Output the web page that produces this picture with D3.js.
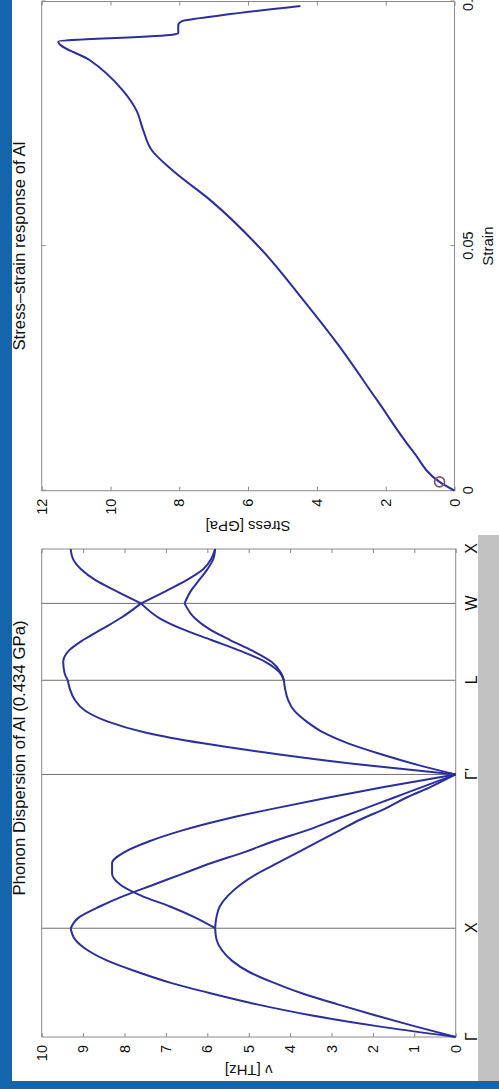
<!DOCTYPE html>
<html>
<head>
<meta charset="utf-8">
<script src="https://cdn.jsdelivr.net/npm/d3@7"></script>
<style>
  html, body { margin: 0; padding: 0; background: #fff; overflow: hidden; }
  text { font-family: "Liberation Sans", Arial, Helvetica, sans-serif; fill: #111; }
</style>
</head>
<body>
<svg id="fig" width="499" height="1089"></svg>
<script>
// ---------- Phonon dispersion (path Γ–X–Γ'–L–W–X, frequencies in THz) ----------
const symLabels = ["Γ", "X", "Γ'", "L", "W", "X"];
const symPos = [0, 1, 2.414, 3.280, 3.987, 4.487];
const freqTicks = [0, 1, 2, 3, 4, 5, 6, 7, 8, 9, 10];

// Γ → X
const qGX = [0, 0.1, 0.2, 0.3, 0.4, 0.5, 0.6, 0.7, 0.8, 0.9, 1.0];
const fGX_L = [0, 1.9, 3.5, 4.8, 5.9, 6.9, 7.7, 8.4, 8.9, 9.2, 9.3];
const fGX_T = [0, 1.0, 1.95, 2.85, 3.7, 4.4, 5.0, 5.4, 5.65, 5.78, 5.81];

// X → Γ'
const qXG = [1.0, 1.1, 1.2, 1.3, 1.4, 1.5, 1.6, 1.7, 1.8, 1.9, 2.0, 2.1, 2.2, 2.3, 2.414];
const fXG_1 = [9.3, 9.1, 8.6, 8.0, 7.3, 6.6, 5.9, 5.1, 4.4, 3.6, 2.9, 2.2, 1.5, 0.8, 0];
const fXG_2 = [5.81, 6.3, 6.9, 7.6, 8.1, 8.3, 8.3, 8.0, 7.4, 6.6, 5.6, 4.4, 3.1, 1.7, 0];
const fXG_3 = [5.81, 5.78, 5.7, 5.5, 5.2, 4.8, 4.3, 3.8, 3.3, 2.8, 2.3, 1.7, 1.2, 0.6, 0];

// Γ' → L
const qGL = [2.414, 2.5, 2.6, 2.7, 2.8, 2.9, 3.0, 3.1, 3.2, 3.280];
const fGL_L = [0, 2.2, 4.3, 6.1, 7.5, 8.4, 8.95, 9.2, 9.32, 9.37];
const fGL_T = [0, 0.9, 1.8, 2.6, 3.2, 3.6, 3.9, 4.05, 4.12, 4.15];

// L → W
const qLW = [3.280, 3.35, 3.45, 3.55, 3.65, 3.75, 3.85, 3.987];
const fLW_1 = [9.37, 9.45, 9.48, 9.35, 9.0, 8.55, 8.1, 7.6];
const fLW_2 = [4.15, 4.25, 4.6, 5.2, 5.9, 6.6, 7.15, 7.6];
const fLW_3 = [4.15, 4.22, 4.45, 4.9, 5.45, 5.95, 6.3, 6.55];

// W → X
const qWX = [3.987, 4.1, 4.2, 4.3, 4.4, 4.487];
const fWX_1 = [7.6, 8.2, 8.7, 9.05, 9.25, 9.3];
const fWX_2 = [7.6, 7.0, 6.5, 6.1, 5.9, 5.81];
const fWX_3 = [6.55, 6.4, 6.2, 6.0, 5.85, 5.81];

// ---------- Stress–strain response ----------
const strainTicks = [0, 0.05, 0.1];
const stressTicks = [0, 2, 4, 6, 8, 10, 12];
const strain = [0, 0.0018, 0.008, 0.0185, 0.03, 0.039, 0.0492, 0.0594, 0.0655, 0.0696, 0.0737, 0.0778, 0.0819, 0.088, 0.0918,
                0.0932, 0.0935, 0.0952, 0.096, 0.0966, 0.0991];
const stress = [0, 0.434, 1.2, 2.25, 3.4, 4.4, 5.6, 7.1, 8.2, 8.8, 9.05, 9.25, 9.65, 10.6, 11.52,
                8.2, 8.03, 8.03, 7.92, 7.39, 4.48];
const markerStrain = [0.0018];
const markerStress = [0.434];

// ---------- Figure ----------
const W = 1089, H = 499;   // figure drawn upright, then turned a quarter turn
const lineColor = "#2b2f9e";
const axisColor = "#8a8a8a";

const svg = d3.select("#fig");
svg.append("rect").attr("width", 499).attr("height", 1089).attr("fill", "#fff");
// slide frame
svg.append("rect").attr("x", 478).attr("y", 535).attr("width", 21).attr("height", 546).attr("fill", "#c2c2c2");
svg.append("rect").attr("x", 0).attr("y", 0).attr("width", 12).attr("height", 1089).attr("fill", "#1565ad");
svg.append("rect").attr("x", 0).attr("y", 1081).attr("width", 499).attr("height", 8).attr("fill", "#1565ad");

const fig = svg.append("g").attr("transform", `translate(0,${W}) rotate(-90)`);

function styleAxis(g) {
  g.select(".domain").remove();
  g.selectAll(".tick line").attr("stroke", axisColor);
  g.selectAll(".tick text").attr("font-size", 14.5).attr("fill", "#111");
}

function box(g, x0, x1, y0, y1) {
  g.append("rect").attr("x", x0).attr("y", y1).attr("width", x1 - x0).attr("height", y0 - y1)
    .attr("fill", "none").attr("stroke", axisColor).attr("stroke-width", 1);
}

// ---- phonon panel ----
const px = d3.scaleLinear().domain([0, 4.487]).range([52, 540]);
const py = d3.scaleLinear().domain([0, 10]).range([455.7, 41.7]);
const pg = fig.append("g");

// symmetry lines
pg.selectAll("line.sym").data(symPos.slice(1, -1)).join("line")
  .attr("x1", d => px(d)).attr("x2", d => px(d))
  .attr("y1", py(0)).attr("y2", py(10))
  .attr("stroke", "#6f6f6f").attr("stroke-width", 1);

pg.append("g").attr("transform", `translate(${px(0)},0)`)
  .call(d3.axisLeft(py).tickValues(freqTicks).tickSize(-4).tickPadding(8).tickFormat(d3.format("d")))
  .call(styleAxis);
pg.append("g").attr("transform", `translate(${px(4.487)},0)`)
  .call(d3.axisRight(py).tickValues(freqTicks).tickSize(-4).tickFormat(""))
  .call(styleAxis);
pg.append("g").attr("transform", `translate(0,${py(0)})`)
  .call(d3.axisBottom(px).tickValues(symPos).tickSize(0).tickPadding(10).tickFormat((d, i) => symLabels[i]))
  .call(styleAxis)
  .selectAll("text").attr("font-size", 16);
box(pg, px(0), px(4.487), py(0), py(10));

const phononLine = d3.line().x(d => px(d[0])).y(d => py(d[1])).curve(d3.curveMonotoneX);
const branches = [
  [qGX, fGX_L], [qGX, fGX_T],
  [qXG, fXG_1], [qXG, fXG_2], [qXG, fXG_3],
  [qGL, fGL_L], [qGL, fGL_T],
  [qLW, fLW_1], [qLW, fLW_2], [qLW, fLW_3],
  [qWX, fWX_1], [qWX, fWX_2], [qWX, fWX_3]
];
pg.selectAll("path.branch").data(branches).join("path")
  .attr("class", "branch")
  .attr("d", ([q, f]) => phononLine(q.map((v, i) => [v, f[i]])))
  .attr("fill", "none").attr("stroke", lineColor).attr("stroke-width", 2);

pg.append("text").attr("x", 331).attr("y", 25).attr("text-anchor", "middle")
  .attr("font-size", 16.8).text("Phonon Dispersion of Al (0.434 GPa)");
pg.append("text").attr("transform", `translate(24,${(py(0) + py(10)) / 2}) rotate(-90)`)
  .attr("text-anchor", "middle").attr("font-size", 15).text("ν [THz]");

// ---- stress–strain panel ----
const sx = d3.scaleLinear().domain([0, 0.1]).range([598.3, 1087.5]);
const sy = d3.scaleLinear().domain([0, 12]).range([454.5, 41.7]);
const sg = fig.append("g");

sg.append("g").attr("transform", `translate(${sx(0)},0)`)
  .call(d3.axisLeft(sy).tickValues(stressTicks).tickSize(-4).tickPadding(8).tickFormat(d3.format("d")))
  .call(styleAxis);
sg.append("g").attr("transform", `translate(${sx(0.1)},0)`)
  .call(d3.axisRight(sy).tickValues(stressTicks).tickSize(-4).tickFormat(""))
  .call(styleAxis);
sg.append("g").attr("transform", `translate(0,${sy(0)})`)
  .call(d3.axisBottom(sx).tickValues(strainTicks).tickSize(-4).tickPadding(8).tickFormat(d => d === 0 ? "0" : String(d)))
  .call(styleAxis);
sg.append("g").attr("transform", `translate(0,${sy(12)})`)
  .call(d3.axisTop(sx).tickValues(strainTicks).tickSize(-4).tickFormat(""))
  .call(styleAxis);
box(sg, sx(0), sx(0.1), sy(0), sy(12));

const ssLine = d3.line().x(d => sx(d[0])).y(d => sy(d[1])).curve(d3.curveMonotoneX);
sg.append("path")
  .attr("d", ssLine(strain.map((e, i) => [e, stress[i]])))
  .attr("fill", "none").attr("stroke", lineColor).attr("stroke-width", 2);

sg.selectAll("circle.mk").data(markerStrain.map((e, i) => [e, markerStress[i]])).join("circle")
  .attr("cx", d => sx(d[0])).attr("cy", d => sy(d[1])).attr("r", 5)
  .attr("fill", "none").attr("stroke", "#7d5566").attr("stroke-width", 1.6);

sg.append("text").attr("x", (sx(0) + sx(0.1)) / 2).attr("y", 25).attr("text-anchor", "middle")
  .attr("font-size", 16.8).text("Stress–strain response of Al");
sg.append("text").attr("x", (sx(0) + sx(0.1)) / 2).attr("y", 493).attr("text-anchor", "middle")
  .attr("font-size", 15).text("Strain");
sg.append("text").attr("transform", `translate(568,${(sy(0) + sy(12)) / 2}) rotate(-90)`)
  .attr("text-anchor", "middle").attr("font-size", 15).text("Stress [GPa]");
</script>
</body>
</html>
